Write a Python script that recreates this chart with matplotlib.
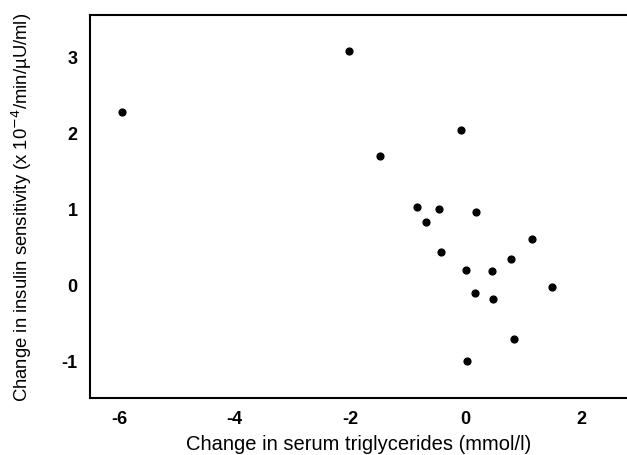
import matplotlib
matplotlib.use("Agg")
import matplotlib.pyplot as plt

plt.rcParams['font.family'] = ['Liberation Sans', 'DejaVu Sans']
plt.rcParams['axes.unicode_minus'] = False

# change in serum triglycerides (mmol/l)
tg_change = [-5.95, -2.02, -1.49, -0.08, -0.85, -0.47, 0.17, -0.69, -0.42,
             1.15, 0.79, 0.01, 0.45, 1.50, 0.16, 0.48, 0.83, 0.02]
# change in insulin sensitivity (x 10^-4/min/uU/ml)
si_change = [2.27, 3.07, 1.69, 2.03, 1.02, 0.99, 0.95, 0.82, 0.43,
             0.60, 0.33, 0.19, 0.18, -0.03, -0.11, -0.19, -0.72, -1.00]

xticks = [-6, -4, -2, 0, 2]
yticks = [-1, 0, 1, 2, 3]

fig = plt.figure(figsize=(6.27, 4.56), dpi=100)
ax = fig.add_axes([90 / 627, 1 - 399 / 456, 1 - 90 / 627, (399 - 16) / 456])

ax.scatter(tg_change, si_change, s=24, color='black', zorder=3)

ax.set_xlim(-6.5, 2.79)
ax.set_ylim(-1.49, 3.54)
ax.set_xticks(xticks)
ax.set_yticks(yticks)
ax.tick_params(length=0, labelsize=13, pad=9)
for lab in ax.get_xticklabels() + ax.get_yticklabels():
    lab.set_fontweight('bold')

ax.spines['right'].set_visible(False)
for side in ['left', 'bottom', 'top']:
    ax.spines[side].set_linewidth(1.5)

ax.set_xlabel('Change in serum triglycerides (mmol/l)', fontsize=14.5)
ax.set_ylabel('Change in insulin sensitivity (x 10$^{-4}$/min/µU/ml)', fontsize=13.3)
# place the axis titles where they sit in the original
ax.xaxis.set_label_coords(0.5, -0.095)
ax.yaxis.set_label_coords(-0.105, 0.5)

fig.savefig('out.png', dpi=100)
